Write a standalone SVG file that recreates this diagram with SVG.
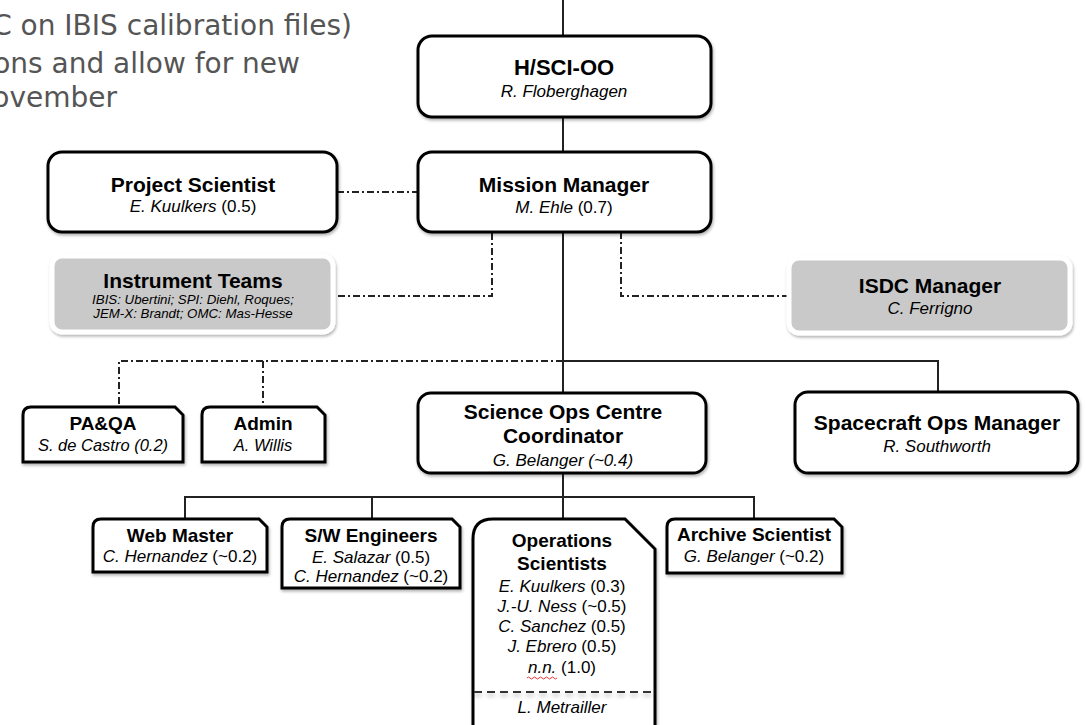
<svg xmlns="http://www.w3.org/2000/svg" width="1086" height="725" viewBox="0 0 1086 725">
<defs>
<filter id="sh" x="-10%" y="-10%" width="120%" height="130%">
<feDropShadow dx="1" dy="2" stdDeviation="1.5" flood-color="#000" flood-opacity="0.3"/>
</filter>
<filter id="lsh" filterUnits="userSpaceOnUse" x="460" y="680" width="210" height="30">
<feDropShadow dx="0" dy="3" stdDeviation="2" flood-color="#000" flood-opacity="0.3"/>
</filter>
<style>
.bg{font-family:"DejaVu Sans",Verdana,sans-serif;font-size:28px;fill:#555}
.box{fill:#fff;stroke:#000;stroke-width:3;filter:url(#sh)}
.gbox{fill:#c9c9c9;stroke:#fff;stroke-width:5;filter:url(#sh)}
.t{font-family:"Liberation Sans",Arial,sans-serif;font-weight:bold;font-size:21px;fill:#000;text-anchor:middle}
.ts{font-family:"Liberation Sans",Arial,sans-serif;font-weight:bold;font-size:19px;fill:#000;text-anchor:middle}
.n{font-family:"Liberation Sans",Arial,sans-serif;font-size:17px;fill:#000;text-anchor:middle}
.ns{font-family:"Liberation Sans",Arial,sans-serif;font-size:13.3px;fill:#000;text-anchor:middle;font-style:italic}
.i{font-style:italic}
.solid{fill:none;stroke:#222;stroke-width:2}
.dd{fill:none;stroke:#222;stroke-width:2;stroke-dasharray:7 3 2 3}
</style>
</defs>
<rect width="1086" height="725" fill="#fff"/>
<g id="background-text">
<text class="bg" x="352" y="35" text-anchor="end">C on IBIS calibration files)</text>
<text class="bg" x="300" y="73" text-anchor="end">ons and allow for new</text>
<text class="bg" x="117" y="107" text-anchor="end">ovember</text>
</g>
<g id="connectors">
<path class="solid" d="M563 0V36M563 117V152M563 232V393M563 361H938V392M563 473V519M185 519V497H754V519M372 497V519"/>
<path class="dd" d="M337 192H418M338 296H492V232M621 232V296H787M563 361H119V407M263 361V407"/>
</g>
<g id="h-sci-oo">
<rect class="box" x="418" y="36" width="293" height="81" rx="14"/>
<text class="t" x="564" y="75" style="font-size:22px">H/SCI-OO</text>
<text class="n i" x="564" y="97">R. Floberghagen</text>
</g>
<g id="mission-manager">
<rect class="box" x="418" y="152" width="293" height="80" rx="14"/>
<text class="t" x="564" y="192">Mission Manager</text>
<text class="n" x="564" y="213"><tspan class="i">M. Ehle</tspan> (0.7)</text>
</g>
<g id="project-scientist">
<rect class="box" x="48" y="152" width="289" height="80" rx="14"/>
<text class="t" x="193" y="192">Project Scientist</text>
<text class="n" x="193" y="212"><tspan class="i">E. Kuulkers</tspan> (0.5)</text>
</g>
<g id="instrument-teams">
<rect class="gbox" x="52" y="256" width="281" height="76" rx="10"/>
<text class="t" x="193" y="288">Instrument Teams</text>
<text class="ns" x="193" y="304">IBIS: Ubertini; SPI: Diehl, Roques;</text>
<text class="ns" x="193" y="318">JEM-X: Brandt; OMC: Mas-Hesse</text>
</g>
<g id="isdc-manager">
<rect class="gbox" x="789" y="258" width="281" height="75" rx="10"/>
<text class="t" x="930" y="293">ISDC Manager</text>
<text class="n i" x="930" y="314">C. Ferrigno</text>
</g>
<g id="paqa">
<path class="box" d="M23 462V415Q23 407 31 407H175L183 415V462Z"/>
<text class="ts" x="103" y="430">PA&amp;QA</text>
<text class="n i" x="103" y="451" style="font-size:16.5px">S. de Castro (0.2)</text>
</g>
<g id="admin">
<path class="box" d="M202 462V415Q202 407 210 407H317L325 415V462Z"/>
<text class="ts" x="263" y="430">Admin</text>
<text class="n i" x="263" y="451" style="font-size:16.5px">A. Willis</text>
</g>
<g id="soc-coordinator">
<rect class="box" x="418" y="393" width="288" height="80" rx="13"/>
<text class="t" x="563" y="419">Science Ops Centre</text>
<text class="t" x="563" y="443">Coordinator</text>
<text class="n i" x="563" y="466">G. Belanger (~0.4)</text>
</g>
<g id="spacecraft-ops-manager">
<rect class="box" x="795" y="392" width="283" height="81" rx="13"/>
<text class="t" x="937" y="430">Spacecraft Ops Manager</text>
<text class="n i" x="937" y="452">R. Southworth</text>
</g>
<g id="web-master">
<path class="box" d="M93 572V527Q93 519 101 519H259L267 527V572Z"/>
<text class="ts" x="180" y="542">Web Master</text>
<text class="n" x="180" y="562"><tspan class="i">C. Hernandez</tspan> (~0.2)</text>
</g>
<g id="sw-engineers">
<path class="box" d="M282 588V527Q282 519 290 519H452L460 527V588Z"/>
<text class="ts" x="371" y="542">S/W Engineers</text>
<text class="n" x="371" y="563"><tspan class="i">E. Salazar</tspan> (0.5)</text>
<text class="n" x="371" y="582"><tspan class="i">C. Hernandez</tspan> (~0.2)</text>
</g>
<g id="operations-scientists">
<path class="box" d="M473 730V539Q473 519 493 519H625L655 549V730"/>
<text class="ts" x="562" y="547">Operations</text>
<text class="ts" x="562" y="570">Scientists</text>
<text class="n" x="562" y="592"><tspan class="i">E. Kuulkers</tspan> (0.3)</text>
<text class="n" x="562" y="612"><tspan class="i">J.-U. Ness</tspan> (~0.5)</text>
<text class="n" x="562" y="632"><tspan class="i">C. Sanchez</tspan> (0.5)</text>
<text class="n" x="562" y="652"><tspan class="i">J. Ebrero</tspan> (0.5)</text>
<text class="n" x="562" y="673"><tspan class="i">n.n.</tspan> (1.0)</text>
<path d="M527 678q1.5 -2 3 0t3 0t3 0t3 0t3 0t3 0t3 0t3 0t3 0t3 0" fill="none" stroke="#e33" stroke-width="1"/>
<path d="M474 692H654" fill="none" stroke="#333" stroke-width="2" stroke-dasharray="8 5" filter="url(#lsh)"/>
<text class="n i" x="562" y="713">L. Metrailler</text>
</g>
<g id="archive-scientist">
<path class="box" d="M667 573V527Q667 519 675 519H834L842 527V573Z"/>
<text class="ts" x="754" y="541">Archive Scientist</text>
<text class="n" x="754" y="562"><tspan class="i">G. Belanger</tspan> (~0.2)</text>
</g>
</svg>
